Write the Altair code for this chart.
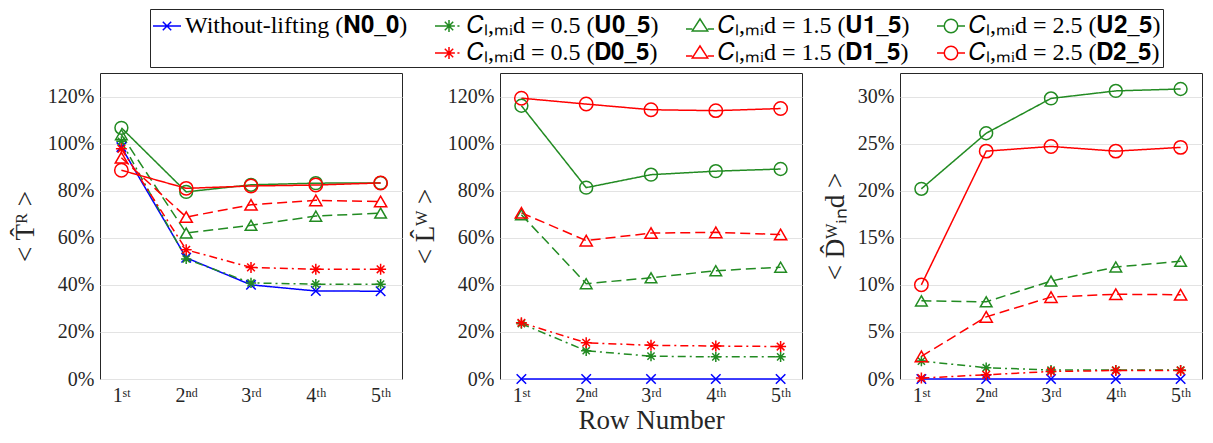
import altair as alt
import pandas as pd

# ---------------- data ----------------
rows = [1, 2, 3, 4, 5]
row_labels = ["1ˢᵗ", "2ⁿᵈ", "3ʳᵈ", "4ᵗʰ", "5ᵗʰ"]

series = ["N0_0", "U0_5", "D0_5", "U1_5", "D1_5", "U2_5", "D2_5"]
series_labels = {
    "N0_0": "Without-lifting (𝐍𝟎_𝟎)",
    "U0_5": "𝐶ₗ,ₘᵢd = 0.5 (𝐔𝟎_𝟓)",
    "D0_5": "𝐶ₗ,ₘᵢd = 0.5 (𝐃𝟎_𝟓)",
    "U1_5": "𝐶ₗ,ₘᵢd = 1.5 (𝐔𝟏_𝟓)",
    "D1_5": "𝐶ₗ,ₘᵢd = 1.5 (𝐃𝟏_𝟓)",
    "U2_5": "𝐶ₗ,ₘᵢd = 2.5 (𝐔𝟐_𝟓)",
    "D2_5": "𝐶ₗ,ₘᵢd = 2.5 (𝐃𝟐_𝟓)",
}

# Panel 1: < T^R >  (%)
T_N0_0 = [98.5, 51.5, 40.0, 37.4, 37.3]
T_U0_5 = [101.0, 51.0, 40.8, 40.3, 40.3]
T_D0_5 = [97.8, 54.9, 47.4, 46.6, 46.6]
T_U1_5 = [103.8, 62.0, 65.3, 69.2, 70.5]
T_D1_5 = [94.0, 68.8, 74.0, 75.9, 75.4]
T_U2_5 = [106.7, 79.5, 82.5, 83.2, 83.3]
T_D2_5 = [88.7, 81.0, 82.0, 82.4, 83.3]

# Panel 2: < L^W >  (%)
L_N0_0 = [0.0, 0.0, 0.0, 0.0, 0.0]
L_U0_5 = [23.5, 12.0, 9.7, 9.4, 9.4]
L_D0_5 = [23.9, 15.4, 14.3, 14.0, 13.8]
L_U1_5 = [69.8, 40.5, 43.0, 46.0, 47.5]
L_D1_5 = [70.6, 58.8, 62.0, 62.3, 61.4]
L_U2_5 = [116.1, 81.3, 86.8, 88.3, 89.2]
L_D2_5 = [119.3, 116.8, 114.4, 114.0, 114.9]

# Panel 3: < D^W_ind >  (%)
D_N0_0 = [0.0, 0.0, 0.0, 0.0, 0.0]
D_U0_5 = [1.9, 1.2, 0.95, 0.95, 0.95]
D_D0_5 = [0.1, 0.45, 0.8, 0.9, 0.9]
D_U1_5 = [8.3, 8.2, 10.4, 11.9, 12.5]
D_D1_5 = [2.4, 6.6, 8.7, 9.0, 8.95]
D_U2_5 = [20.2, 26.1, 29.8, 30.6, 30.8]
D_D2_5 = [10.0, 24.2, 24.7, 24.2, 24.6]

panel_T = {"N0_0": T_N0_0, "U0_5": T_U0_5, "D0_5": T_D0_5, "U1_5": T_U1_5,
           "D1_5": T_D1_5, "U2_5": T_U2_5, "D2_5": T_D2_5}
panel_L = {"N0_0": L_N0_0, "U0_5": L_U0_5, "D0_5": L_D0_5, "U1_5": L_U1_5,
           "D1_5": L_D1_5, "U2_5": L_U2_5, "D2_5": L_D2_5}
panel_D = {"N0_0": D_N0_0, "U0_5": D_U0_5, "D0_5": D_D0_5, "U1_5": D_U1_5,
           "D1_5": D_D1_5, "U2_5": D_U2_5, "D2_5": D_D2_5}

# ---------------- styles ----------------
BLUE, GREEN, RED = "#0000ff", "#228b22", "#ff0000"
color_map = {"N0_0": BLUE, "U0_5": GREEN, "D0_5": RED, "U1_5": GREEN,
             "D1_5": RED, "U2_5": GREEN, "D2_5": RED}
dash_map = {"N0_0": [1, 0], "U0_5": [8, 4, 2, 4], "D0_5": [8, 4, 2, 4],
            "U1_5": [10, 5], "D1_5": [10, 5], "U2_5": [1, 0], "D2_5": [1, 0]}
XMARK = "M-1,-1L1,1M-1,1L1,-1"
STAR = "M-1,0L1,0M0,-1L0,1M-0.7,-0.7L0.7,0.7M-0.7,0.7L0.7,-0.7"
shape_map = {"N0_0": XMARK, "U0_5": STAR, "D0_5": STAR, "U1_5": "triangle-up",
             "D1_5": "triangle-up", "U2_5": "circle", "D2_5": "circle"}
size_map = {"N0_0": 90, "U0_5": 180, "D0_5": 180, "U1_5": 270,
            "D1_5": 270, "U2_5": 210, "D2_5": 210}

# legend symbols: line stub + marker
LG_X = "M-1,0L1,0M-0.3,-0.3L0.3,0.3M-0.3,0.3L0.3,-0.3"
LG_STAR = ("M-1,0L-0.42,0M0.6,0L0.75,0M-0.42,0L0.42,0M0,-0.42L0,0.42"
           "M-0.3,-0.3L0.3,0.3M-0.3,0.3L0.3,-0.3")
LG_TRI = "M-1,0.22L-0.55,0.22M0.55,0.22L1,0.22M0,-0.5L0.55,0.35L-0.55,0.35Z"
LG_CIRC = ("M-1,0L-0.48,0M0.48,0L1,0M-0.48,0A0.48,0.48 0 1,1 0.48,0"
           "A0.48,0.48 0 1,1 -0.48,0")
# column-major order (2 rows x 4 columns)
legend_order = ["N0_0", " ", "U0_5", "D0_5", "U1_5", "D1_5", "U2_5", "D2_5"]
legend_shape = {"N0_0": LG_X, "U0_5": LG_STAR, "U1_5": LG_TRI, "U2_5": LG_CIRC,
                " ": "M0,0", "D0_5": LG_STAR, "D1_5": LG_TRI, "D2_5": LG_CIRC}
legend_color = dict(color_map)
legend_color[" "] = "#ffffff"
label_map = dict(series_labels)
label_map[" "] = " "
label_expr = "{" + ",".join("'%s':'%s'" % (k, v) for k, v in label_map.items()) + "}[datum.label]"

xlabel_expr = "[" + ",".join("'%s'" % s for s in row_labels) + "][datum.value-1]"

FONT = "Liberation Serif"
TXT = "#262626"


def make_df(d):
    recs = []
    for s in series:
        for r, v in zip(rows, d[s]):
            recs.append({"series": s, "row": r, "value": v})
    return pd.DataFrame(recs)


def legend_props():
    return dict(orient="none", legendX=-350, legendY=-64, columns=4, direction="vertical",
                title=None, labelExpr=label_expr,
                labelFont=FONT, labelFontSize=24, labelColor="#000000",
                labelLimit=400, symbolSize=784, symbolStrokeWidth=1.5,
                labelOffset=3, columnPadding=24, rowPadding=0, padding=2,
                strokeColor="#262626", fillColor="#ffffff")


def panel(d, ytitle, ydomain, yticks, xtitle=None, with_legend=False):
    df = make_df(d)
    x = alt.X("row:Q",
              scale=alt.Scale(domain=[0.67, 5.33], nice=False, zero=False),
              axis=alt.Axis(values=rows, labelExpr=xlabel_expr, title=xtitle,
                            grid=False, ticks=False, domain=False, labelPadding=6,
                            titlePadding=2, labelFlush=False, labelOverlap=False,
                            labelFont=FONT, labelFontSize=20, labelColor=TXT,
                            titleFont=FONT, titleFontSize=27, titleFontWeight="normal",
                            titleColor=TXT))
    y = alt.Y("value:Q",
              scale=alt.Scale(domain=ydomain, nice=False, zero=False),
              axis=alt.Axis(values=yticks, labelExpr="datum.value + '%'", title=ytitle,
                            grid=True, gridColor="#e3e3e3", gridWidth=1,
                            ticks=False, domain=False, labelPadding=6,
                            titlePadding=8, labelOverlap=False, labelFlush=False,
                            labelFont=FONT, labelFontSize=20, labelColor=TXT,
                            titleFont=FONT, titleFontSize=27, titleFontWeight="normal",
                            titleColor=TXT))
    color = alt.Color("series:N", scale=alt.Scale(domain=series, range=[color_map[s] for s in series]), legend=None)
    dash = alt.StrokeDash("series:N", scale=alt.Scale(domain=series, range=[dash_map[s] for s in series]), legend=None)
    shape = alt.Shape("series:N", scale=alt.Scale(domain=series, range=[shape_map[s] for s in series]), legend=None)
    size = alt.Size("series:N", scale=alt.Scale(domain=series, range=[size_map[s] for s in series]), legend=None)

    lines = alt.Chart(df).mark_line(strokeWidth=1.5).encode(x=x, y=y, color=color, strokeDash=dash, detail="series:N")
    pts = alt.Chart(df).mark_point(filled=False, strokeWidth=1.5, opacity=1).encode(x=x, y=y, color=color, shape=shape, size=size)
    plot = alt.layer(lines, pts)
    if with_legend:
        leg = alt.Chart(df).transform_filter("false").transform_calculate(
            lseries="datum.series").mark_point(filled=False, strokeWidth=1.5, opacity=1).encode(
            x=alt.X("row:Q"), y=alt.Y("value:Q"),
            color=alt.Color("lseries:N",
                            scale=alt.Scale(domain=legend_order, range=[legend_color[s] for s in legend_order]),
                            legend=alt.Legend(**legend_props())),
            shape=alt.Shape("lseries:N",
                            scale=alt.Scale(domain=legend_order, range=[legend_shape[s] for s in legend_order]),
                            legend=alt.Legend(**legend_props())),
        )
        plot = alt.layer(plot, leg).resolve_scale(color="independent", shape="independent")
    return plot.properties(width=302, height=306)


p1 = panel(panel_T, "< T̂ᴿ >", [0, 130], [0, 20, 40, 60, 80, 100, 120])
p2 = panel(panel_L, "< L̂ᵂ >", [0, 130], [0, 20, 40, 60, 80, 100, 120], xtitle="Row Number", with_legend=True)
p3 = panel(panel_D, "< D̂ᵂᵢₙd >", [0, 32.5], [0, 5, 10, 15, 20, 25, 30])

chart = alt.hconcat(p1, p2, p3, spacing=98, bounds="flush").properties(
    padding={"left": 2, "top": 0, "right": 2, "bottom": 0},
    background="#ffffff",
).configure_view(stroke=TXT, strokeWidth=1)

chart.save("out.html", embed_options={"renderer": "svg", "actions": False})
